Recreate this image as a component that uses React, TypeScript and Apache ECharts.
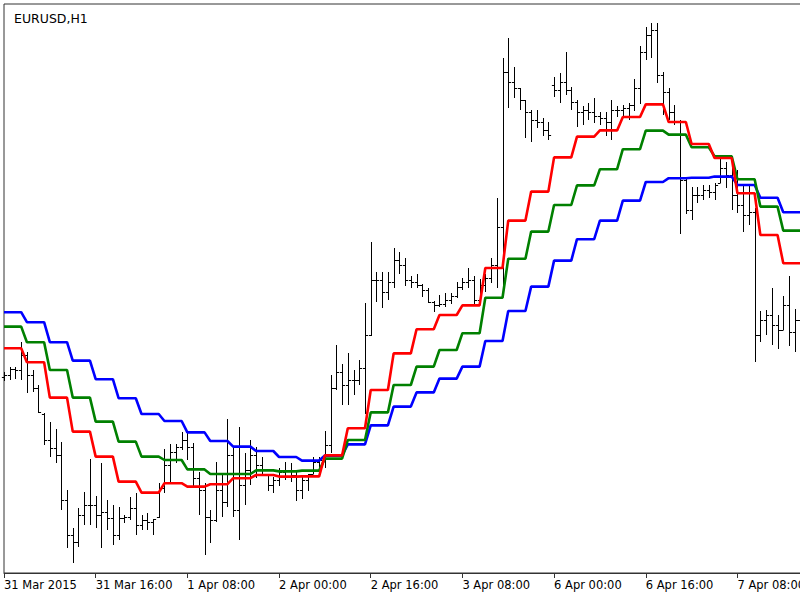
import React, { useEffect, useRef } from "react";
import * as echarts from "echarts";

// ---- categories (H1 bars, weekend skipped) ----
const dayNames = ["31 Mar", "1 Apr", "2 Apr", "3 Apr", "6 Apr", "7 Apr"];
const barCount = 141;
const tickLabels = [
  "31 Mar 2015", "31 Mar 16:00", "1 Apr 08:00", "2 Apr 00:00", "2 Apr 16:00",
  "3 Apr 08:00", "6 Apr 00:00", "6 Apr 16:00", "7 Apr 08:00",
];
const tickEvery = 16;

// ---- OHLC prices ----
const opens = [
  1.08615, 1.08625, 1.08655, 1.0865, 1.08725, 1.08625, 1.0856, 1.0843, 1.083, 1.0826,
  1.08225, 1.08, 1.07825, 1.0779, 1.07925, 1.07975, 1.07975, 1.07925, 1.0794, 1.0791,
  1.07825, 1.0791, 1.07915, 1.0796, 1.07875, 1.079, 1.0789, 1.07915, 1.0806, 1.08175,
  1.0824, 1.08265, 1.083, 1.08265, 1.0811, 1.0805, 1.07915, 1.079, 1.0805, 1.0799,
  1.08225, 1.0795, 1.08075, 1.0815, 1.08225, 1.08175, 1.08125, 1.08075, 1.081, 1.0814,
  1.0815, 1.08125, 1.0805, 1.081, 1.0813, 1.0819, 1.082, 1.08275, 1.0856, 1.0864,
  1.08575, 1.086, 1.086, 1.0866, 1.08825, 1.091, 1.091, 1.0904, 1.0909, 1.092,
  1.09175, 1.091, 1.0909, 1.09075, 1.0905, 1.0899, 1.08975, 1.0898, 1.09, 1.0902,
  1.09065, 1.0909, 1.091, 1.09, 1.09075, 1.0911, 1.09175, 1.09365, 1.1014, 1.1009,
  1.1006, 1.1, 1.0994, 1.099, 1.0989, 1.0985, 1.10075, 1.1005, 1.1009, 1.1005,
  1.0999, 1.0994, 1.0995, 1.0994, 1.0992, 1.0991, 1.0989, 1.0995, 1.0995, 1.0996,
  1.09975, 1.1006, 1.1024, 1.10325, 1.1035, 1.10125, 1.1004, 1.0994, 1.0989, 1.096,
  1.0945, 1.09525, 1.09525, 1.0955, 1.0954, 1.09585, 1.0966, 1.09625, 1.09525, 1.09475,
  1.09425, 1.0944, 1.08825, 1.089, 1.08925, 1.08875, 1.0885, 1.08975, 1.0884, 1.089,
];
const highs = [
  1.0864, 1.08665, 1.08665, 1.0879, 1.0874, 1.0865, 1.08575, 1.08435, 1.0839, 1.08355,
  1.0829, 1.0805, 1.0786, 1.0796, 1.0804, 1.08205, 1.0802, 1.08185, 1.08, 1.07975,
  1.07965, 1.07925, 1.08015, 1.08035, 1.07925, 1.07935, 1.07905, 1.08085, 1.08255, 1.0828,
  1.0828, 1.0834, 1.08335, 1.08285, 1.0814, 1.08085, 1.0795, 1.0819, 1.08135, 1.08405,
  1.08265, 1.08365, 1.08235, 1.083, 1.08265, 1.08215, 1.0813, 1.08115, 1.0816, 1.0819,
  1.08185, 1.0815, 1.08125, 1.0813, 1.08215, 1.08215, 1.08345, 1.08625, 1.08775, 1.0868,
  1.08735, 1.0865, 1.087, 1.08985, 1.0929, 1.0914, 1.0914, 1.0914, 1.0926, 1.0924,
  1.0921, 1.0912, 1.0913, 1.0908, 1.0906, 1.08995, 1.09025, 1.09035, 1.09035, 1.0909,
  1.0911, 1.0916, 1.0912, 1.09105, 1.0913, 1.0921, 1.0951, 1.1021, 1.1031, 1.10165,
  1.1006, 1.1, 1.0995, 1.0995, 1.0991, 1.0989, 1.10115, 1.10135, 1.1024, 1.10065,
  1.1, 1.0997, 1.09985, 1.1001, 1.0994, 1.0994, 1.1, 1.0997, 1.09975, 1.09985,
  1.10105, 1.1027, 1.10365, 1.10385, 1.10385, 1.1014, 1.1006, 1.09975, 1.099, 1.0961,
  1.09565, 1.09565, 1.09575, 1.09575, 1.09585, 1.09705, 1.0969, 1.09675, 1.0965, 1.09575,
  1.0957, 1.0946, 1.08945, 1.0895, 1.0906, 1.08925, 1.0902, 1.0912, 1.08955, 1.08915,
];
const lows = [
  1.08595, 1.086, 1.08605, 1.086, 1.08535, 1.0854, 1.08435, 1.08275, 1.08215, 1.08185,
  1.0795, 1.0776, 1.07685, 1.07765, 1.07875, 1.07875, 1.0786, 1.0776, 1.0785, 1.07775,
  1.078, 1.07885, 1.079, 1.07825, 1.0785, 1.0785, 1.07825, 1.0791, 1.08035, 1.08085,
  1.08185, 1.0825, 1.082, 1.08065, 1.07925, 1.07725, 1.07785, 1.0789, 1.07915, 1.07965,
  1.07915, 1.078, 1.07975, 1.08075, 1.0811, 1.08125, 1.08045, 1.08035, 1.0807, 1.081,
  1.0809, 1.07995, 1.08005, 1.08045, 1.0813, 1.0814, 1.0816, 1.08235, 1.0855, 1.08475,
  1.08475, 1.08525, 1.08575, 1.0843, 1.0882, 1.0899, 1.0896, 1.09, 1.0906, 1.0913,
  1.0907, 1.0906, 1.0906, 1.09015, 1.08985, 1.0894, 1.08965, 1.08965, 1.0898, 1.0901,
  1.0905, 1.0906, 1.0898, 1.0898, 1.0904, 1.09085, 1.0906, 1.09065, 1.0996, 1.1001,
  1.0995, 1.0981, 1.0979, 1.0986, 1.0982, 1.098, 1.10015, 1.09985, 1.10025, 1.0995,
  1.09865, 1.09875, 1.099, 1.09885, 1.09875, 1.0982, 1.098, 1.09915, 1.0991, 1.099,
  1.09945, 1.0998, 1.102, 1.1021, 1.10085, 1.09925, 1.099, 1.09875, 1.0933, 1.0943,
  1.094, 1.09485, 1.095, 1.0951, 1.095, 1.09585, 1.0956, 1.0945, 1.09435, 1.0934,
  1.09375, 1.0869, 1.0879, 1.08825, 1.08775, 1.08755, 1.0885, 1.0877, 1.0874, 1.08715,
];
const closes = [
  1.08625, 1.08655, 1.0865, 1.08725, 1.08625, 1.0856, 1.0844, 1.083, 1.0826, 1.08225,
  1.08, 1.07825, 1.0779, 1.07925, 1.07975, 1.07975, 1.07925, 1.0794, 1.0791, 1.07825,
  1.0791, 1.07915, 1.0796, 1.07875, 1.079, 1.0789, 1.07905, 1.0806, 1.08175, 1.0824,
  1.08265, 1.083, 1.08265, 1.0811, 1.0805, 1.07915, 1.079, 1.0805, 1.0799, 1.08225,
  1.0795, 1.08075, 1.0815, 1.08225, 1.08175, 1.08125, 1.08075, 1.081, 1.0814, 1.0815,
  1.08125, 1.0805, 1.081, 1.0813, 1.0819, 1.082, 1.08275, 1.0856, 1.0864, 1.08575,
  1.086, 1.086, 1.0866, 1.08825, 1.091, 1.091, 1.0904, 1.0909, 1.092, 1.09175,
  1.091, 1.0909, 1.09075, 1.0905, 1.0899, 1.08975, 1.0898, 1.09, 1.0902, 1.09065,
  1.0909, 1.091, 1.09, 1.09075, 1.0911, 1.09175, 1.09365, 1.1014, 1.1009, 1.1006,
  1.1, 1.0994, 1.099, 1.0989, 1.0985, 1.09825, 1.1005, 1.1009, 1.1005, 1.0999,
  1.0994, 1.0995, 1.0994, 1.0992, 1.0991, 1.0989, 1.0995, 1.0995, 1.0996, 1.09975,
  1.1006, 1.1024, 1.10325, 1.1035, 1.10125, 1.1004, 1.0994, 1.0989, 1.096, 1.0945,
  1.09525, 1.09525, 1.0955, 1.0954, 1.09575, 1.0966, 1.09625, 1.09525, 1.09475, 1.09425,
  1.0944, 1.08825, 1.089, 1.08925, 1.08875, 1.0885, 1.08975, 1.0884, 1.089, 1.088,
];

// ---- indicator lines: one value per H4 period (4 H1 bars) ----
const barsPerPeriod = 4;
const redH4 = [
  1.08759, 1.08689, 1.08512, 1.08342, 1.08217, 1.08092, 1.08037, 1.08084, 1.08067, 1.08079,
  1.08109, 1.08125, 1.08117, 1.08118, 1.08223, 1.08359, 1.0855, 1.08733, 1.08854, 1.08925,
  1.08973, 1.0916, 1.09397, 1.09542, 1.09713, 1.09817, 1.09848, 1.09915, 1.09978, 1.0989,
  1.0978, 1.0971, 1.09534, 1.09325, 1.09184,
];
const greenH4 = [
  1.08867, 1.08789, 1.0865, 1.08512, 1.08392, 1.08292, 1.08217, 1.082, 1.08153, 1.0813,
  1.0813, 1.08148, 1.08143, 1.08147, 1.08207, 1.083, 1.08438, 1.08575, 1.08667, 1.0875,
  1.08834, 1.09011, 1.09206, 1.09342, 1.09475, 1.09573, 1.09654, 1.09754, 1.09847, 1.09827,
  1.09764, 1.09719, 1.09604, 1.09467, 1.09347,
];
const blueH4 = [
  1.08939, 1.08889, 1.08789, 1.08697, 1.08604, 1.08509, 1.0843, 1.08395, 1.08338, 1.08295,
  1.08267, 1.08245, 1.08215, 1.08197, 1.08222, 1.08278, 1.08373, 1.08467, 1.08538, 1.08607,
  1.08667, 1.08795, 1.08945, 1.09067, 1.09197, 1.09304, 1.09397, 1.09497, 1.0959, 1.09609,
  1.09611, 1.09617, 1.09575, 1.09511, 1.09439,
];

const priceMin = 1.07635;
const priceMax = 1.1048;

function buildCategories(): string[] {
  const out: string[] = [];
  for (const d of dayNames) {
    for (let h = 0; h < 24 && out.length < barCount; h++) {
      out.push(`${d} ${String(h).padStart(2, "0")}:00`);
    }
  }
  return out;
}

function expand(h4: number[]): (number | null)[] {
  const out: (number | null)[] = [];
  for (let i = 0; i < barCount; i++) {
    const v = h4[Math.floor(i / barsPerPeriod)];
    out.push(i < opens.length && v !== undefined ? v : null);
  }
  return out;
}

export default function App() {
  const ref = useRef<HTMLDivElement>(null);

  useEffect(() => {
    if (!ref.current) return;
    const chart = echarts.init(ref.current, null, { renderer: "svg" });
    const categories = buildCategories();
    const ohlc = opens.map((o, i) => [i, o, highs[i], lows[i], closes[i]]);
    const font = "DejaVu Sans";

    chart.setOption({
      animation: false,
      backgroundColor: "#ffffff",
      title: {
        text: "EURUSD,H1",
        left: 9,
        top: 7,
        textStyle: { fontFamily: font, fontSize: 12.5, fontWeight: "normal", color: "#000" },
      },
      grid: {
        left: 4,
        top: 4,
        width: 802.2,
        height: 569,
        show: true,
        borderColor: "#333",
        borderWidth: 1,
        backgroundColor: "#fff",
      },
      xAxis: {
        type: "category",
        data: categories,
        boundaryGap: false,
        axisLine: { show: true, lineStyle: { color: "#333", width: 1 } },
        axisTick: {
          show: true,
          length: 5,
          interval: (idx: number) => idx % tickEvery === 0,
          lineStyle: { color: "#333" },
        },
        axisLabel: {
          show: true,
          interval: (idx: number) => idx % tickEvery === 0,
          formatter: (_v: string, idx: number) =>
            idx % tickEvery === 0 ? tickLabels[idx / tickEvery] ?? "" : "",
          align: "left",
          margin: 6,
          fontFamily: font,
          fontSize: 11.5,
          color: "#000",
        },
        splitLine: { show: false },
      },
      yAxis: {
        type: "value",
        min: priceMin,
        max: priceMax,
        show: false,
        splitLine: { show: false },
      },
      series: [
        {
          type: "custom",
          name: "EURUSD",
          data: ohlc,
          encode: { x: 0, y: [1, 2, 3, 4] },
          silent: true,
          z: 2,
          renderItem: (_params: any, api: any) => {
            const i = api.value(0);
            const pO = api.coord([i, api.value(1)]);
            const pH = api.coord([i, api.value(2)]);
            const pL = api.coord([i, api.value(3)]);
            const pC = api.coord([i, api.value(4)]);
            const x = Math.round(pO[0]) + 0.5;
            const t = 2.6;
            const yo = Math.round(pO[1]) + 0.5;
            const yc = Math.round(pC[1]) + 0.5;
            const style = { stroke: "#000", lineWidth: 1 };
            return {
              type: "group",
              children: [
                { type: "line", shape: { x1: x, y1: pH[1], x2: x, y2: pL[1] }, style },
                { type: "line", shape: { x1: x - t, y1: yo, x2: x, y2: yo }, style },
                { type: "line", shape: { x1: x, y1: yc, x2: x + t, y2: yc }, style },
              ],
            };
          },
        },
        {
          type: "line",
          name: "Blue",
          data: expand(blueH4),
          showSymbol: false,
          silent: true,
          z: 3,
          lineStyle: { color: "#0000ff", width: 2.6 },
        },
        {
          type: "line",
          name: "Green",
          data: expand(greenH4),
          showSymbol: false,
          silent: true,
          z: 4,
          lineStyle: { color: "#008000", width: 2.6 },
        },
        {
          type: "line",
          name: "Red",
          data: expand(redH4),
          showSymbol: false,
          silent: true,
          z: 5,
          lineStyle: { color: "#ff0000", width: 2.6 },
        },
      ],
    });

    return () => chart.dispose();
  }, []);

  return (
    <div
      ref={ref}
      style={{ position: "fixed", left: 0, top: 0, width: 820, height: 600, background: "#fff" }}
    />
  );
}
